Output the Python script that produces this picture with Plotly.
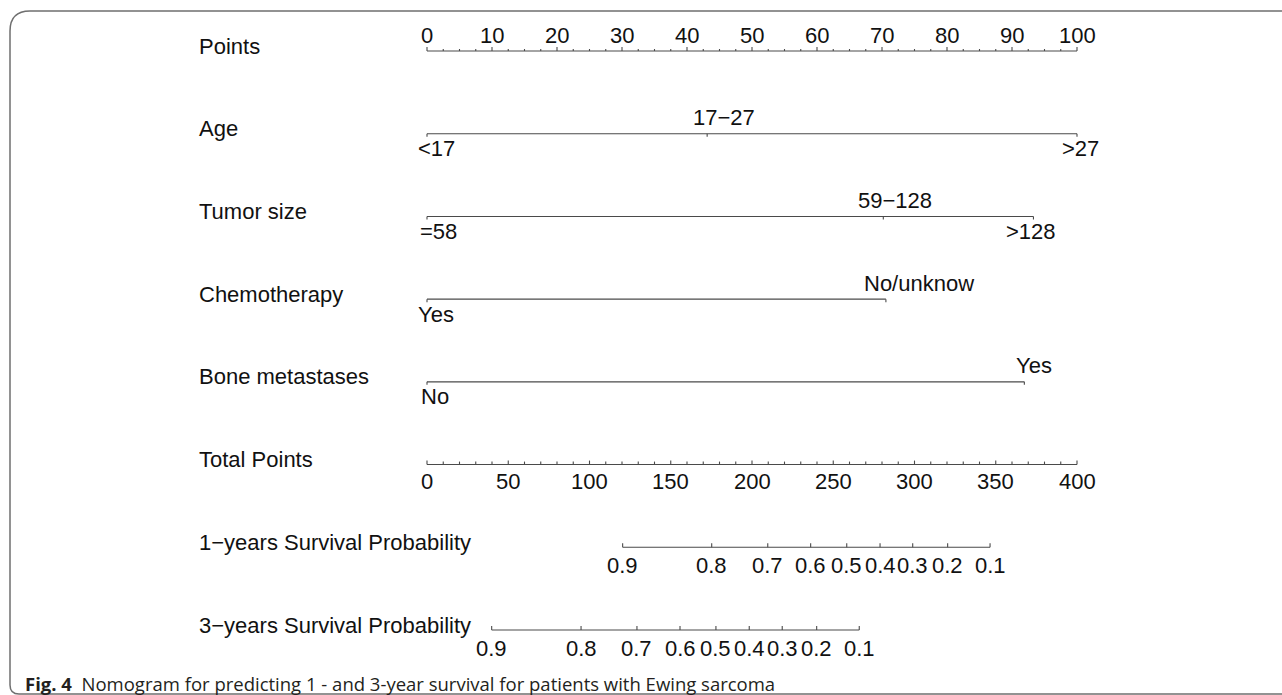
import plotly.graph_objects as go

# ---------------- data ----------------
row_names = ["Points", "Age", "Tumor size", "Chemotherapy", "Bone metastases",
             "Total Points", "1\u2212years Survival Probability", "3\u2212years Survival Probability"]

points_major = [0, 10, 20, 30, 40, 50, 60, 70, 80, 90, 100]
points_minor_step = 2.5

age_levels = ["<17", "17\u221227", ">27"]
age_points = [0, 43.1, 100]

tumor_levels = ["=58", "59\u2212128", ">128"]
tumor_points = [0, 70.2, 93.3]

chemo_levels = ["Yes", "No/unknow"]
chemo_points = [0, 70.6]

bone_levels = ["No", "Yes"]
bone_points = [0, 91.9]

total_major = [0, 50, 100, 150, 200, 250, 300, 350, 400]
total_minor_step = 10

surv_probs = [0.9, 0.8, 0.7, 0.6, 0.5, 0.4, 0.3, 0.2, 0.1]
surv1_total = [120.4, 175.2, 209.7, 236.1, 258.3, 278.8, 298.9, 320.4, 346.5]
surv3_total = [39.8, 94.8, 129.2, 155.7, 177.8, 198.3, 218.6, 239.8, 266.0]

caption_bold = "Fig. 4"
caption_text = "Nomogram for predicting 1 - and 3-year survival for patients with Ewing sarcoma"

# ---------------- layout constants ----------------
W, H = 1282, 695
X0_PX, PX_PER_PT = 427, 6.5          # points 0 -> 427px, 100 -> 1077px
ROW0_PX, PX_PER_ROW = 51, (630 - 51) / 7
TOTAL_MAX = 400
PTS_MAX = 100
LINE_COL = "#4a4a4a"
TXT_COL = "#111111"
FONT = "Liberation Sans, Arial, sans-serif"
FS = 22

def tpx(px):  # pixel length -> row units
    return px / PX_PER_ROW

fig = go.Figure()

def add_segments(xs_pairs, ys_pairs, width=1.1):
    X, Y = [], []
    for (xa, xb), (ya, yb) in zip(xs_pairs, ys_pairs):
        X += [xa, xb, None]
        Y += [ya, yb, None]
    fig.add_trace(go.Scatter(x=X, y=Y, mode="lines", hoverinfo="skip",
                             line=dict(color=LINE_COL, width=width), showlegend=False))

ann = []
def label(x, row, text, yshift=0, xshift=0, xanchor="center", size=FS):
    ann.append(dict(x=x, y=row, xref="x", yref="y", text=text, showarrow=False,
                    xanchor=xanchor, yanchor="middle", xshift=xshift, yshift=yshift,
                    font=dict(family=FONT, size=size, color=TXT_COL)))

# row labels
for i, name in enumerate(row_names):
    ann.append(dict(x=197 / W, y=i, xref="paper", yref="y", text=name, showarrow=False,
                    xanchor="left", yanchor="middle", yshift=5,
                    font=dict(family=FONT, size=FS, color=TXT_COL)))

# --- Points axis (row 0), ticks up, labels above
r = 0
xs = [(0, PTS_MAX)]; ys = [(r, r)]
n_minor = int(PTS_MAX / points_minor_step)
for k in range(n_minor + 1):
    v = k * points_minor_step
    major = v in points_major
    L = 4 if major else 2
    xs.append((v, v)); ys.append((r, r - tpx(L)))
add_segments(xs, ys)
for v in points_major:
    label(v, r, str(v), yshift=16)

# --- factor rows
def factor_row(r, levels, pts, pos, shifts):
    xs = [(min(pts), max(pts))]; ys = [(r, r)]
    for p in pts:
        xs.append((p, p)); ys.append((r, r + tpx(3)))
    add_segments(xs, ys)
    for lev, p, ps, sh in zip(levels, pts, pos, shifts):
        label(p, r, lev, yshift=16 if ps == "up" else -15, xshift=sh)

factor_row(1, age_levels, age_points, ["down", "up", "down"], [9, 17, 3])
factor_row(2, tumor_levels, tumor_points, ["down", "up", "down"], [11, 12, -2])
factor_row(3, chemo_levels, chemo_points, ["down", "up"], [9, 33])
factor_row(4, bone_levels, bone_points, ["down", "up"], [8, 10])

# --- Total points axis (row 5)
r = 5
scale = PTS_MAX / TOTAL_MAX
xs = [(0, TOTAL_MAX * scale)]; ys = [(r, r)]
for k in range(int(TOTAL_MAX / total_minor_step) + 1):
    v = k * total_minor_step
    L = 4 if v in total_major else 3
    xs.append((v * scale, v * scale)); ys.append((r, r - tpx(L)))
add_segments(xs, ys)
for v in total_major:
    label(v * scale, r, str(v), yshift=-17)

# --- survival axes
def surv_row(r, totals):
    xs = [(min(totals) * scale, max(totals) * scale)]; ys = [(r, r)]
    for t in totals:
        xs.append((t * scale, t * scale)); ys.append((r, r - tpx(4)))
    add_segments(xs, ys)
    for p, t in zip(surv_probs, totals):
        label(t * scale, r, f"{p:g}", yshift=-18)

surv_row(6, surv1_total)
surv_row(7, surv3_total)

# caption
ann.append(dict(x=23 / W, y=1 - 683 / H, xref="paper", yref="paper",
                text=f"<b>{caption_bold}</b>  {caption_text}", showarrow=False,
                xanchor="left", yanchor="middle",
                font=dict(family="Open Sans, Noto Sans, sans-serif", size=18.5, color="#231f20")))

# frame (open at right/bottom, rounded left corners)
def px(x): return x / W
def py(y): return 1 - y / H
frame = (f"M {px(1282)},{py(11)} L {px(30)},{py(11)} Q {px(10)},{py(11)} {px(10)},{py(31)} "
         f"L {px(10)},{py(685)} Q {px(10)},{py(694)} {px(19)},{py(694)} L {px(1282)},{py(694)}")

xr = [-X0_PX / PX_PER_PT, (W - X0_PX) / PX_PER_PT]
yr = [(H - ROW0_PX) / PX_PER_ROW, -ROW0_PX / PX_PER_ROW]

fig.update_layout(
    width=W, height=H, margin=dict(l=0, r=0, t=0, b=0),
    paper_bgcolor="white", plot_bgcolor="white",
    xaxis=dict(range=xr, visible=False, fixedrange=True),
    yaxis=dict(range=yr, visible=False, fixedrange=True),
    annotations=ann,
    shapes=[dict(type="path", path=frame, xref="paper", yref="paper",
                 line=dict(color="#6f6f6f", width=1.5))],
    showlegend=False,
)

fig.write_html("out.html", config={"displayModeBar": False},
               post_script="document.body.style.margin='0';document.body.style.overflow='hidden';")
